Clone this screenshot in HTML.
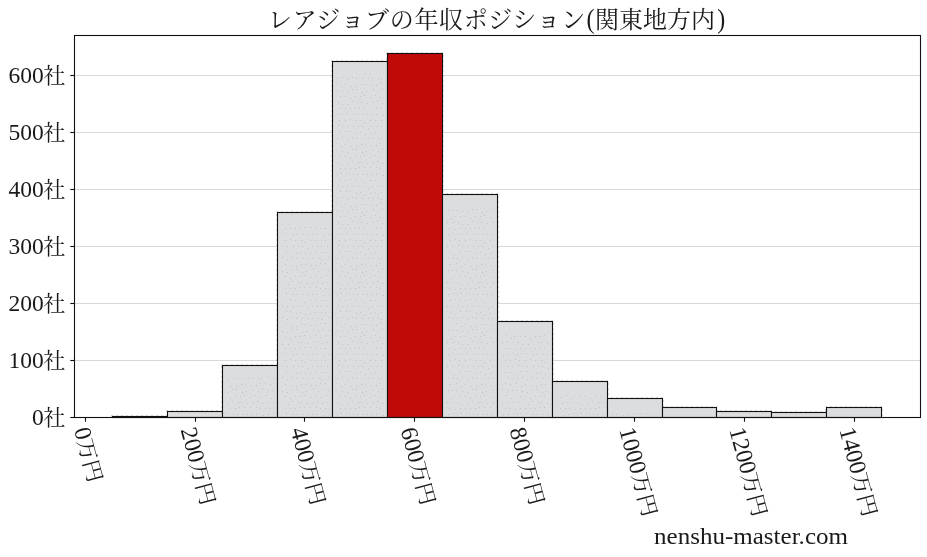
<!DOCTYPE html>
<html lang="ja">
<head>
<meta charset="utf-8">
<title>レアジョブの年収ポジション(関東地方内)</title>
<style>
html,body{margin:0;padding:0;background:#fff;}
body{width:927px;height:557px;overflow:hidden;}
svg{display:block;}
text{font-family:"Liberation Serif", "Noto Serif CJK JP", "Noto Serif CJK SC", serif;fill:#1a1a1a;}
.ttl{font-size:24px;}
</style>
</head>
<body>
<svg width="927" height="557" viewBox="0 0 927 557">
<defs>
<pattern id="dots" width="60" height="60" patternUnits="userSpaceOnUse">
<g fill="#c2c3c5"><rect x="1" y="0" width="1" height="1"/><rect x="4" y="2" width="1" height="1"/><rect x="10" y="0" width="1" height="1"/><rect x="15" y="0" width="1" height="1"/><rect x="21" y="0" width="1" height="1"/><rect x="25" y="0" width="1" height="1"/><rect x="30" y="0" width="1" height="1"/><rect x="35" y="59" width="1" height="1"/><rect x="39" y="0" width="1" height="1"/><rect x="45" y="0" width="1" height="1"/><rect x="50" y="59" width="1" height="1"/><rect x="55" y="0" width="1" height="1"/><rect x="2" y="6" width="1" height="1"/><rect x="8" y="8" width="1" height="1"/><rect x="12" y="6" width="1" height="1"/><rect x="17" y="6" width="1" height="1"/><rect x="21" y="6" width="1" height="1"/><rect x="27" y="6" width="1" height="1"/><rect x="32" y="6" width="1" height="1"/><rect x="38" y="5" width="1" height="1"/><rect x="42" y="6" width="1" height="1"/><rect x="47" y="6" width="1" height="1"/><rect x="53" y="6" width="1" height="1"/><rect x="58" y="6" width="1" height="1"/><rect x="0" y="12" width="1" height="1"/><rect x="5" y="14" width="1" height="1"/><rect x="10" y="13" width="1" height="1"/><rect x="15" y="12" width="1" height="1"/><rect x="21" y="12" width="1" height="1"/><rect x="25" y="12" width="1" height="1"/><rect x="30" y="12" width="1" height="1"/><rect x="34" y="14" width="1" height="1"/><rect x="40" y="11" width="1" height="1"/><rect x="46" y="11" width="1" height="1"/><rect x="50" y="11" width="1" height="1"/><rect x="56" y="13" width="1" height="1"/><rect x="2" y="18" width="1" height="1"/><rect x="8" y="18" width="1" height="1"/><rect x="12" y="18" width="1" height="1"/><rect x="18" y="18" width="1" height="1"/><rect x="21" y="19" width="1" height="1"/><rect x="28" y="17" width="1" height="1"/><rect x="33" y="18" width="1" height="1"/><rect x="37" y="18" width="1" height="1"/><rect x="42" y="17" width="1" height="1"/><rect x="47" y="19" width="1" height="1"/><rect x="52" y="17" width="1" height="1"/><rect x="56" y="18" width="1" height="1"/><rect x="1" y="24" width="1" height="1"/><rect x="5" y="24" width="1" height="1"/><rect x="11" y="25" width="1" height="1"/><rect x="16" y="25" width="1" height="1"/><rect x="20" y="23" width="1" height="1"/><rect x="25" y="23" width="1" height="1"/><rect x="30" y="24" width="1" height="1"/><rect x="36" y="23" width="1" height="1"/><rect x="41" y="26" width="1" height="1"/><rect x="45" y="24" width="1" height="1"/><rect x="51" y="26" width="1" height="1"/><rect x="56" y="26" width="1" height="1"/><rect x="2" y="32" width="1" height="1"/><rect x="6" y="31" width="1" height="1"/><rect x="13" y="29" width="1" height="1"/><rect x="18" y="31" width="1" height="1"/><rect x="22" y="29" width="1" height="1"/><rect x="28" y="30" width="1" height="1"/><rect x="32" y="30" width="1" height="1"/><rect x="36" y="30" width="1" height="1"/><rect x="42" y="31" width="1" height="1"/><rect x="47" y="32" width="1" height="1"/><rect x="52" y="29" width="1" height="1"/><rect x="56" y="29" width="1" height="1"/><rect x="0" y="36" width="1" height="1"/><rect x="4" y="35" width="1" height="1"/><rect x="10" y="37" width="1" height="1"/><rect x="15" y="35" width="1" height="1"/><rect x="20" y="37" width="1" height="1"/><rect x="26" y="35" width="1" height="1"/><rect x="31" y="38" width="1" height="1"/><rect x="34" y="36" width="1" height="1"/><rect x="40" y="36" width="1" height="1"/><rect x="45" y="36" width="1" height="1"/><rect x="50" y="38" width="1" height="1"/><rect x="55" y="36" width="1" height="1"/><rect x="1" y="42" width="1" height="1"/><rect x="7" y="43" width="1" height="1"/><rect x="13" y="42" width="1" height="1"/><rect x="17" y="41" width="1" height="1"/><rect x="22" y="43" width="1" height="1"/><rect x="27" y="42" width="1" height="1"/><rect x="33" y="42" width="1" height="1"/><rect x="38" y="42" width="1" height="1"/><rect x="42" y="44" width="1" height="1"/><rect x="48" y="44" width="1" height="1"/><rect x="52" y="41" width="1" height="1"/><rect x="58" y="42" width="1" height="1"/><rect x="59" y="47" width="1" height="1"/><rect x="4" y="47" width="1" height="1"/><rect x="10" y="47" width="1" height="1"/><rect x="16" y="47" width="1" height="1"/><rect x="20" y="48" width="1" height="1"/><rect x="25" y="48" width="1" height="1"/><rect x="29" y="48" width="1" height="1"/><rect x="35" y="49" width="1" height="1"/><rect x="40" y="48" width="1" height="1"/><rect x="45" y="48" width="1" height="1"/><rect x="50" y="48" width="1" height="1"/><rect x="55" y="48" width="1" height="1"/><rect x="3" y="54" width="1" height="1"/><rect x="7" y="54" width="1" height="1"/><rect x="12" y="54" width="1" height="1"/><rect x="16" y="54" width="1" height="1"/><rect x="23" y="55" width="1" height="1"/><rect x="28" y="54" width="1" height="1"/><rect x="33" y="53" width="1" height="1"/><rect x="37" y="54" width="1" height="1"/><rect x="41" y="53" width="1" height="1"/><rect x="46" y="53" width="1" height="1"/><rect x="53" y="54" width="1" height="1"/><rect x="57" y="54" width="1" height="1"/></g>
</pattern>
</defs>
<rect width="927" height="557" fill="#ffffff"/>

<line x1="74.5" x2="920.5" y1="360.50" y2="360.50" stroke="#d7d9da" stroke-width="1"/>
<line x1="74.5" x2="920.5" y1="303.50" y2="303.50" stroke="#d7d9da" stroke-width="1"/>
<line x1="74.5" x2="920.5" y1="246.50" y2="246.50" stroke="#d7d9da" stroke-width="1"/>
<line x1="74.5" x2="920.5" y1="189.50" y2="189.50" stroke="#d7d9da" stroke-width="1"/>
<line x1="74.5" x2="920.5" y1="132.50" y2="132.50" stroke="#d7d9da" stroke-width="1"/>
<line x1="74.5" x2="920.5" y1="75.50" y2="75.50" stroke="#d7d9da" stroke-width="1"/>
<rect x="111.5" y="415.5" width="57.0" height="1.0" fill="none" stroke="#bdbdbd" stroke-width="1" stroke-dasharray="1 4"/>
<rect x="166.5" y="410.5" width="57.0" height="6.0" fill="none" stroke="#bdbdbd" stroke-width="1" stroke-dasharray="1 4"/>
<rect x="221.5" y="364.5" width="57.0" height="52.0" fill="none" stroke="#bdbdbd" stroke-width="1" stroke-dasharray="1 4"/>
<rect x="276.5" y="211.5" width="57.0" height="205.0" fill="none" stroke="#bdbdbd" stroke-width="1" stroke-dasharray="1 4"/>
<rect x="331.5" y="60.5" width="57.0" height="356.0" fill="none" stroke="#bdbdbd" stroke-width="1" stroke-dasharray="1 4"/>
<rect x="386.5" y="52.5" width="57.0" height="364.0" fill="none" stroke="#bdbdbd" stroke-width="1" stroke-dasharray="1 4"/>
<rect x="441.5" y="193.5" width="57.0" height="223.0" fill="none" stroke="#bdbdbd" stroke-width="1" stroke-dasharray="1 4"/>
<rect x="496.5" y="320.5" width="57.0" height="96.0" fill="none" stroke="#bdbdbd" stroke-width="1" stroke-dasharray="1 4"/>
<rect x="551.5" y="380.5" width="57.0" height="36.0" fill="none" stroke="#bdbdbd" stroke-width="1" stroke-dasharray="1 4"/>
<rect x="606.5" y="397.5" width="57.0" height="19.0" fill="none" stroke="#bdbdbd" stroke-width="1" stroke-dasharray="1 4"/>
<rect x="661.5" y="406.5" width="56.0" height="10.0" fill="none" stroke="#bdbdbd" stroke-width="1" stroke-dasharray="1 4"/>
<rect x="715.5" y="410.5" width="57.0" height="6.0" fill="none" stroke="#bdbdbd" stroke-width="1" stroke-dasharray="1 4"/>
<rect x="770.5" y="411.5" width="57.0" height="5.0" fill="none" stroke="#bdbdbd" stroke-width="1" stroke-dasharray="1 4"/>
<rect x="825.5" y="406.5" width="57.0" height="10.0" fill="none" stroke="#bdbdbd" stroke-width="1" stroke-dasharray="1 4"/>
<rect x="112.50" y="416.50" width="55.00" height="1.00" fill="#dcddde" stroke="#111" stroke-width="1.1"/>
<rect x="167.50" y="411.50" width="55.00" height="6.00" fill="#dcddde" stroke="#111" stroke-width="1.1"/>
<rect x="222.50" y="365.50" width="55.00" height="52.00" fill="#dcddde" stroke="#111" stroke-width="1.1"/>
<rect x="226.50" y="377.50" width="48.00" height="39.00" fill="url(#dots)"/>
<rect x="277.50" y="212.50" width="55.00" height="205.00" fill="#dcddde" stroke="#111" stroke-width="1.1"/>
<rect x="281.50" y="224.50" width="48.00" height="192.00" fill="url(#dots)"/>
<rect x="332.50" y="61.50" width="55.00" height="356.00" fill="#dcddde" stroke="#111" stroke-width="1.1"/>
<rect x="336.50" y="73.50" width="48.00" height="343.00" fill="url(#dots)"/>
<rect x="387.50" y="53.50" width="55.00" height="364.00" fill="#c00a0a" stroke="#111" stroke-width="1.1"/>
<rect x="442.50" y="194.50" width="55.00" height="223.00" fill="#dcddde" stroke="#111" stroke-width="1.1"/>
<rect x="446.50" y="206.50" width="48.00" height="210.00" fill="url(#dots)"/>
<rect x="497.50" y="321.50" width="55.00" height="96.00" fill="#dcddde" stroke="#111" stroke-width="1.1"/>
<rect x="501.50" y="333.50" width="48.00" height="83.00" fill="url(#dots)"/>
<rect x="552.50" y="381.50" width="55.00" height="36.00" fill="#dcddde" stroke="#111" stroke-width="1.1"/>
<rect x="556.50" y="393.50" width="48.00" height="23.00" fill="url(#dots)"/>
<rect x="607.50" y="398.50" width="55.00" height="19.00" fill="#dcddde" stroke="#111" stroke-width="1.1"/>
<rect x="611.50" y="410.50" width="48.00" height="6.00" fill="url(#dots)"/>
<rect x="662.50" y="407.50" width="54.00" height="10.00" fill="#dcddde" stroke="#111" stroke-width="1.1"/>
<rect x="716.50" y="411.50" width="55.00" height="6.00" fill="#dcddde" stroke="#111" stroke-width="1.1"/>
<rect x="771.50" y="412.50" width="55.00" height="5.00" fill="#dcddde" stroke="#111" stroke-width="1.1"/>
<rect x="826.50" y="407.50" width="55.00" height="10.00" fill="#dcddde" stroke="#111" stroke-width="1.1"/>
<rect x="74.5" y="35.5" width="846.0" height="382.0" fill="none" stroke="#111" stroke-width="1.1"/>
<line x1="70.3" x2="74.5" y1="417.50" y2="417.50" stroke="#111" stroke-width="1.1"/>
<g transform="translate(31.44,424.90)"><g transform="translate(0.5,0.3) scale(0.98,1)"><text font-size="24.0">0</text></g><g transform="translate(11.76,0.2) scale(1,0.95)"><text font-size="22.2">社</text></g></g>
<line x1="70.3" x2="74.5" y1="360.50" y2="360.50" stroke="#111" stroke-width="1.1"/>
<g transform="translate(7.92,367.90)"><g transform="translate(0.5,0.3) scale(0.98,1)"><text font-size="24.0">100</text></g><g transform="translate(35.28,0.2) scale(1,0.95)"><text font-size="22.2">社</text></g></g>
<line x1="70.3" x2="74.5" y1="303.50" y2="303.50" stroke="#111" stroke-width="1.1"/>
<g transform="translate(7.92,310.90)"><g transform="translate(0.5,0.3) scale(0.98,1)"><text font-size="24.0">200</text></g><g transform="translate(35.28,0.2) scale(1,0.95)"><text font-size="22.2">社</text></g></g>
<line x1="70.3" x2="74.5" y1="246.50" y2="246.50" stroke="#111" stroke-width="1.1"/>
<g transform="translate(7.92,253.90)"><g transform="translate(0.5,0.3) scale(0.98,1)"><text font-size="24.0">300</text></g><g transform="translate(35.28,0.2) scale(1,0.95)"><text font-size="22.2">社</text></g></g>
<line x1="70.3" x2="74.5" y1="189.50" y2="189.50" stroke="#111" stroke-width="1.1"/>
<g transform="translate(7.92,196.90)"><g transform="translate(0.5,0.3) scale(0.98,1)"><text font-size="24.0">400</text></g><g transform="translate(35.28,0.2) scale(1,0.95)"><text font-size="22.2">社</text></g></g>
<line x1="70.3" x2="74.5" y1="132.50" y2="132.50" stroke="#111" stroke-width="1.1"/>
<g transform="translate(7.92,139.90)"><g transform="translate(0.5,0.3) scale(0.98,1)"><text font-size="24.0">500</text></g><g transform="translate(35.28,0.2) scale(1,0.95)"><text font-size="22.2">社</text></g></g>
<line x1="70.3" x2="74.5" y1="75.50" y2="75.50" stroke="#111" stroke-width="1.1"/>
<g transform="translate(7.92,82.90)"><g transform="translate(0.5,0.3) scale(0.98,1)"><text font-size="24.0">600</text></g><g transform="translate(35.28,0.2) scale(1,0.95)"><text font-size="22.2">社</text></g></g>
<line x1="85.50" x2="85.50" y1="417.5" y2="421.7" stroke="#111" stroke-width="1.1"/>
<g transform="translate(74.12,429.25) rotate(75)"><g transform="translate(0.5,0.3) scale(0.98,1)"><text font-size="24.0">0</text></g><g transform="translate(11.76,0.2) scale(1,0.95)"><text font-size="22.2">万円</text></g></g>
<line x1="195.50" x2="195.50" y1="417.5" y2="421.7" stroke="#111" stroke-width="1.1"/>
<g transform="translate(180.78,429.25) rotate(75)"><g transform="translate(0.5,0.3) scale(0.98,1)"><text font-size="24.0">200</text></g><g transform="translate(35.28,0.2) scale(1,0.95)"><text font-size="22.2">万円</text></g></g>
<line x1="304.50" x2="304.50" y1="417.5" y2="421.7" stroke="#111" stroke-width="1.1"/>
<g transform="translate(290.78,429.25) rotate(75)"><g transform="translate(0.5,0.3) scale(0.98,1)"><text font-size="24.0">400</text></g><g transform="translate(35.28,0.2) scale(1,0.95)"><text font-size="22.2">万円</text></g></g>
<line x1="414.50" x2="414.50" y1="417.5" y2="421.7" stroke="#111" stroke-width="1.1"/>
<g transform="translate(400.78,429.25) rotate(75)"><g transform="translate(0.5,0.3) scale(0.98,1)"><text font-size="24.0">600</text></g><g transform="translate(35.28,0.2) scale(1,0.95)"><text font-size="22.2">万円</text></g></g>
<line x1="524.50" x2="524.50" y1="417.5" y2="421.7" stroke="#111" stroke-width="1.1"/>
<g transform="translate(509.78,429.25) rotate(75)"><g transform="translate(0.5,0.3) scale(0.98,1)"><text font-size="24.0">800</text></g><g transform="translate(35.28,0.2) scale(1,0.95)"><text font-size="22.2">万円</text></g></g>
<line x1="634.50" x2="634.50" y1="417.5" y2="421.7" stroke="#111" stroke-width="1.1"/>
<g transform="translate(619.45,429.25) rotate(75)"><g transform="translate(0.5,0.3) scale(0.98,1)"><text font-size="24.0">1000</text></g><g transform="translate(47.04,0.2) scale(1,0.95)"><text font-size="22.2">万円</text></g></g>
<line x1="744.50" x2="744.50" y1="417.5" y2="421.7" stroke="#111" stroke-width="1.1"/>
<g transform="translate(729.45,429.25) rotate(75)"><g transform="translate(0.5,0.3) scale(0.98,1)"><text font-size="24.0">1200</text></g><g transform="translate(47.04,0.2) scale(1,0.95)"><text font-size="22.2">万円</text></g></g>
<line x1="854.50" x2="854.50" y1="417.5" y2="421.7" stroke="#111" stroke-width="1.1"/>
<g transform="translate(839.45,429.25) rotate(75)"><g transform="translate(0.5,0.3) scale(0.98,1)"><text font-size="24.0">1400</text></g><g transform="translate(47.04,0.2) scale(1,0.95)"><text font-size="22.2">万円</text></g></g>
<text class="ttl" x="268.0" y="27.5" letter-spacing="0.64">レアジョブの年収ポジション</text>
<g transform="translate(586.5,27.5) scale(0.91,1)"><text font-size="26.4">(</text></g>
<text class="ttl" x="594.9" y="27.5">関東地方内</text>
<g transform="translate(717.2,27.5) scale(0.91,1)"><text font-size="26.4">)</text></g>
<text font-size="22.2" x="654" y="543.8" textLength="194" lengthAdjust="spacingAndGlyphs">nenshu-master.com</text>
</svg>
</body>
</html>
